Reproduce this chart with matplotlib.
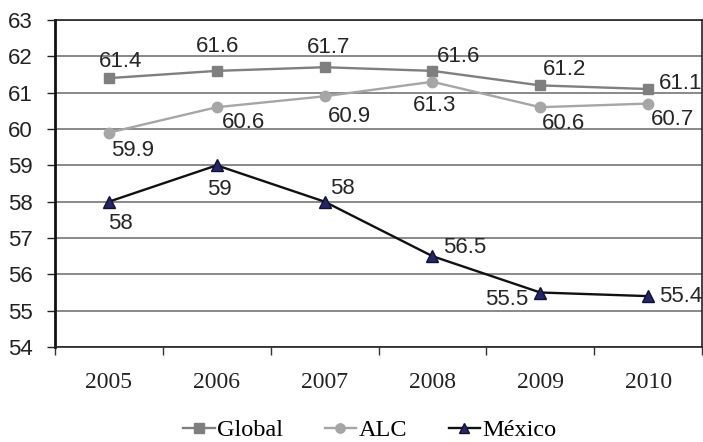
import matplotlib
matplotlib.use("Agg")
import matplotlib.pyplot as plt
from matplotlib.ticker import FixedLocator, NullFormatter

# data
years = ["2005", "2006", "2007", "2008", "2009", "2010"]
global_vals = [61.4, 61.6, 61.7, 61.6, 61.2, 61.1]
alc_vals = [59.9, 60.6, 60.9, 61.3, 60.6, 60.7]
mexico_vals = [58, 59, 58, 56.5, 55.5, 55.4]
mexico_labels = ["58", "59", "58", "56.5", "55.5", "55.4"]

# label offsets in pixels (dx, dy), placement only
global_off = [(12, 17), (1, 24), (4, 20), (26, 14), (24, 16), (33, 6)]
alc_off = [(24, -18), (27, -15), (25, -20), (2, -24), (23, -16), (24, -16)]
mexico_off = [(12, -22), (3, -24), (18, 13), (32, 9), (-34, -7), (33, 0)]

SANS = "Liberation Sans"
SERIF = "Liberation Serif"

fig = plt.figure(figsize=(7.03, 4.42), dpi=100)
ax = fig.add_axes([55 / 703, 1 - 347 / 442, 647 / 703, 327 / 442])

x = list(range(len(years)))

ax.plot(x, global_vals, color="#7f7f7f", lw=1.7, marker="s", ms=7.5,
        mfc="#7f7f7f", mec="#7f7f7f", label="Global", zorder=3)
ax.plot(x, alc_vals, color="#a6a6a6", lw=1.7, marker="o", ms=7.5,
        mfc="#a6a6a6", mec="#a6a6a6", label="ALC", zorder=3)
ax.plot(x, mexico_vals, color="#111111", lw=1.7, marker="^", ms=8.5,
        mfc="#25256e", mec="#111133", label="México", zorder=4)

for vals, offs, texts in [
    (global_vals, global_off, [f"{v:.1f}" for v in global_vals]),
    (alc_vals, alc_off, [f"{v:.1f}" for v in alc_vals]),
    (mexico_vals, mexico_off, mexico_labels),
]:
    for xi, v, (dx, dy), t in zip(x, vals, offs, texts):
        ax.annotate(t, (xi, v), xytext=(dx, dy), textcoords="offset pixels",
                    ha="center", va="center", fontsize=16, family=SANS,
                    color="#262626", zorder=5)

ax.set_xlim(-0.5, 5.5)
ax.set_ylim(54, 63)
ax.set_yticks(range(54, 64))
ax.grid(axis="y", color="#808080", lw=1.3, zorder=1)
ax.set_axisbelow(True)

ax.set_xticks(x)
ax.set_xticklabels(years, family=SERIF, fontsize=17, color="#222222")
ax.xaxis.set_minor_locator(FixedLocator([i - 0.5 for i in range(len(years) + 1)]))
ax.xaxis.set_minor_formatter(NullFormatter())
ax.tick_params(axis="x", which="major", length=0, pad=18)
ax.tick_params(axis="x", which="minor", length=6, width=1, color="#333333")
ax.tick_params(axis="y", length=6, width=1, pad=10, labelsize=16, color="#222222",
               labelcolor="#222222")
for lbl in ax.get_yticklabels():
    lbl.set_family(SANS)

for side in ["top", "right", "bottom"]:
    ax.spines[side].set_color("#222222")
    ax.spines[side].set_linewidth(1.2)
ax.spines["left"].set_color("#111111")
ax.spines["left"].set_linewidth(2)

ax.legend(loc="center", bbox_to_anchor=(370 / 703, 1 - 430 / 442),
          bbox_transform=fig.transFigure, ncol=3, frameon=False,
          prop={"family": SERIF, "size": 17.5}, handlelength=1.3,
          handletextpad=0.1, columnspacing=1.7, markerscale=0.9)

fig.savefig("out.png", dpi=100)
